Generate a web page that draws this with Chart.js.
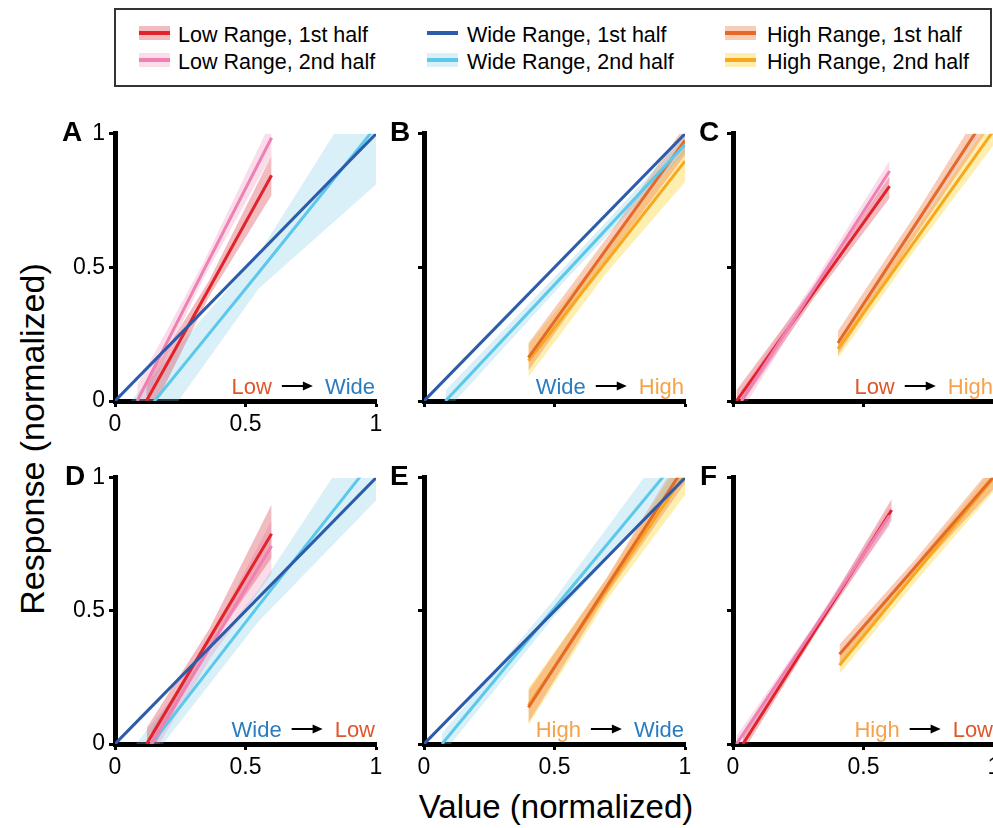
<!DOCTYPE html>
<html>
<head>
<meta charset="utf-8">
<script src="https://cdn.jsdelivr.net/npm/chart.js@4.4.0/dist/chart.umd.min.js"></script>
<style>
html, body { margin: 0; padding: 0; background: #fff; overflow: hidden; width: 993px; height: 828px; }
body { position: relative; font-family: "Liberation Sans", Arial, sans-serif; }
canvas { position: absolute; }
.leyenda { position: absolute; left: 114px; top: 8px; width: 874px; height: 75px; border: 2px solid #333; }
.item { position: absolute; font-size: 21.5px; line-height: 21.5px; color: #000; white-space: nowrap; }
.muestra { position: absolute; width: 31px; height: 14px; }
.muestra span { position: absolute; left: 0; right: 0; top: 5px; height: 4px; }
.titulo { position: absolute; font-size: 33px; line-height: 34px; white-space: nowrap; text-align: center; color: #000; }
</style>
</head>
<body>
<div class="leyenda"></div>
<div class="titulo" style="left:356px; top:790px; width:400px;">Value (normalized)</div>
<div class="titulo" style="left:-178px; top:422px; width:420px; font-size:34px; transform: rotate(-90deg);">Response (normalized)</div>

<script>
// marcas de los ejes
const ticksEje = [0, 0.5, 1];

// series: [x, y, banda inferior, banda superior]
const A_wide1 = [[0, 0], [1, 1]];
const A_wide2 = [[0.06, -0.11, -0.25, 0.0], [0.55, 0.48, 0.42, 0.55], [1, 1.027, 0.81, 1.25]];
const A_low1 = [[0.12, 0, -0.08, 0.07], [0.36, 0.42, 0.39, 0.45], [0.6, 0.845, 0.77, 0.92]];
const A_low2 = [[0.085, 0, -0.06, 0.06], [0.34, 0.49, 0.46, 0.52], [0.6, 0.985, 0.92, 1.05]];

const B_wide1 = [[0, 0], [1, 1]];
const B_wide2 = [[0.082, 0, -0.04, 0.04], [0.55, 0.487, 0.46, 0.515], [1, 0.96, 0.93, 0.99]];
const B_high1 = [[0.4, 0.162, 0.113, 0.217], [0.7, 0.57, 0.53, 0.61], [1, 0.975, 0.92, 1.03]];
const B_high2 = [[0.4, 0.15, 0.09, 0.21], [0.7, 0.524, 0.48, 0.57], [1, 0.898, 0.82, 0.95]];

const C_low1 = [[0.013, 0, -0.04, 0.04], [0.31, 0.407, 0.385, 0.43], [0.6, 0.804, 0.76, 0.84]];
const C_low2 = [[0.032, 0, -0.04, 0.04], [0.31, 0.421, 0.4, 0.445], [0.6, 0.861, 0.82, 0.9]];
const C_high1 = [[0.402, 0.217, 0.172, 0.262], [0.7, 0.662, 0.62, 0.70], [1, 1.11, 1.05, 1.17]];
const C_high2 = [[0.402, 0.195, 0.16, 0.23], [0.7, 0.603, 0.57, 0.64], [1, 1.014, 0.96, 1.07]];

const D_wide1 = [[0, 0], [1, 1]];
const D_wide2 = [[0.08, -0.075, -0.13, 0.0], [0.55, 0.52, 0.46, 0.58], [1, 1.08, 0.915, 1.25]];
const D_low1 = [[0.121, 0, -0.06, 0.06], [0.36, 0.394, 0.36, 0.43], [0.6, 0.79, 0.70, 0.90]];
const D_low2 = [[0.139, 0, -0.05, 0.05], [0.37, 0.373, 0.33, 0.41], [0.6, 0.744, 0.64, 0.84]];

const E_wide1 = [[0, 0], [1, 1]];
const E_wide2 = [[0.069, 0, -0.04, 0.04], [0.5, 0.511, 0.48, 0.545], [1, 1.103, 1.01, 1.21]];
const E_high1 = [[0.4, 0.137, 0.08, 0.2], [0.7, 0.591, 0.56, 0.625], [1, 1.044, 0.98, 1.11]];
const E_high2 = [[0.4, 0.145, 0.07, 0.21], [0.7, 0.58, 0.54, 0.62], [1, 1.015, 0.935, 1.09]];

const F_low1 = [[0.038, 0, -0.03, 0.03], [0.32, 0.435, 0.42, 0.45], [0.608, 0.879, 0.84, 0.92]];
const F_low2 = [[0.013, 0, -0.03, 0.03], [0.31, 0.434, 0.42, 0.447], [0.6, 0.858, 0.82, 0.89]];
const F_high1 = [[0.408, 0.337, 0.30, 0.374], [0.7, 0.667, 0.64, 0.695], [1, 1.006, 0.96, 1.05]];
const F_high2 = [[0.408, 0.296, 0.263, 0.343], [0.7, 0.644, 0.61, 0.675], [1, 1.002, 0.95, 1.04]];

const nombres = ['Low Range, 1st half', 'Low Range, 2nd half', 'Wide Range, 1st half', 'Wide Range, 2nd half', 'High Range, 1st half', 'High Range, 2nd half'];
const claves = ['low1', 'low2', 'wide1', 'wide2', 'high1', 'high2'];

const estilos = {
    low1: { linea: '#e3232c', banda: 'rgba(215,60,75,0.35)' },
    low2: { linea: '#ef80b3', banda: 'rgba(240,120,170,0.25)' },
    wide1: { linea: '#2c5caa', banda: null },
    wide2: { linea: '#5cc8ea', banda: 'rgba(120,200,235,0.28)' },
    high1: { linea: '#e4692b', banda: 'rgba(235,110,50,0.35)' },
    high2: { linea: '#f8a81e', banda: 'rgba(252,215,60,0.4)' }
};
const colorTexto = { Low: '#e0562b', Wide: '#2a7cc0', High: '#f7a24a' };

const paneles = [
    { letra: 'A', dx: -53, L: 115, T: 130, H: 271, xEtiq: true, yEtiq: true, desde: 'Low', hasta: 'Wide',
      series: [['wide2', A_wide2], ['low1', A_low1], ['low2', A_low2], ['wide1', A_wide1]] },
    { letra: 'B', dx: -34, L: 424, T: 130, H: 271, xEtiq: false, yEtiq: false, desde: 'Wide', hasta: 'High',
      series: [['high2', B_high2], ['high1', B_high1], ['wide2', B_wide2], ['wide1', B_wide1]] },
    { letra: 'C', dx: -34, L: 733, T: 130, H: 271, xEtiq: false, yEtiq: false, desde: 'Low', hasta: 'High',
      series: [['high2', C_high2], ['high1', C_high1], ['low1', C_low1], ['low2', C_low2]] },
    { letra: 'D', dx: -50, L: 115, T: 474, H: 270, xEtiq: true, yEtiq: true, desde: 'Wide', hasta: 'Low',
      series: [['wide2', D_wide2], ['low2', D_low2], ['low1', D_low1], ['wide1', D_wide1]] },
    { letra: 'E', dx: -34, L: 424, T: 474, H: 270, xEtiq: true, yEtiq: false, desde: 'High', hasta: 'Wide',
      series: [['high2', E_high2], ['high1', E_high1], ['wide2', E_wide2], ['wide1', E_wide1]] },
    { letra: 'F', dx: -33, L: 733, T: 474, H: 270, xEtiq: true, yEtiq: false, desde: 'High', hasta: 'Low',
      series: [['high2', F_high2], ['high1', F_high1], ['low1', F_low1], ['low2', F_low2]] }
];

Chart.defaults.font.family = '"Liberation Sans", Arial, sans-serif';

// leyenda
const colX = [139, 427, 725];
const textoX = [178, 467, 767];
const filaY = [26, 53];
for (let i = 0; i < claves.length; i++) {
    const col = Math.floor(i / 2), fila = i % 2;
    const est = estilos[claves[i]];
    const m = document.createElement('div');
    m.className = 'muestra';
    m.style.left = colX[col] + 'px';
    m.style.top = filaY[fila] + 'px';
    if (est.banda) m.style.background = est.banda;
    const l = document.createElement('span');
    l.style.background = est.linea;
    m.appendChild(l);
    document.body.appendChild(m);
    const t = document.createElement('div');
    t.className = 'item';
    t.textContent = nombres[i];
    t.style.left = textoX[col] + 'px';
    t.style.top = (filaY[fila] - 1) + 'px';
    document.body.appendChild(t);
}

// letra del panel y nota "Low -> Wide"
const notas = {
    id: 'notas',
    afterDraw(chart, args, o) {
        const ctx = chart.ctx, a = chart.chartArea;
        ctx.save();
        ctx.fillStyle = '#000';
        ctx.textBaseline = 'alphabetic';
        ctx.textAlign = 'left';
        ctx.font = 'bold 28px "Liberation Sans", Arial, sans-serif';
        ctx.fillText(o.letra, a.left + o.dx, a.top + 7);

        ctx.font = '22px "Liberation Sans", Arial, sans-serif';
        const y = a.bottom - 7;
        let x = a.right - 1;
        ctx.textAlign = 'right';
        ctx.fillStyle = colorTexto[o.hasta];
        ctx.fillText(o.hasta, x, y);
        x -= ctx.measureText(o.hasta).width + 12;
        const ay = y - 8;
        ctx.strokeStyle = '#000';
        ctx.fillStyle = '#000';
        ctx.lineWidth = 2;
        ctx.beginPath();
        ctx.moveTo(x - 31, ay);
        ctx.lineTo(x - 8, ay);
        ctx.stroke();
        ctx.beginPath();
        ctx.moveTo(x, ay);
        ctx.lineTo(x - 10, ay - 4.5);
        ctx.lineTo(x - 10, ay + 4.5);
        ctx.closePath();
        ctx.fill();
        x -= 31 + 10;
        ctx.fillStyle = colorTexto[o.desde];
        ctx.fillText(o.desde, x, y);
        ctx.restore();
    }
};

function eje(etiquetas, fijar) {
    return {
        type: 'linear', min: 0, max: 1, z: 1,
        afterBuildTicks: s => { s.ticks = ticksEje.map(v => ({ value: v })); },
        ticks: {
            color: '#000', font: { size: 23 }, padding: 4, maxRotation: 0, autoSkip: false,
            callback: v => etiquetas ? String(v) : ''
        },
        grid: { drawOnChartArea: false, drawTicks: true, tickLength: 6, tickWidth: 3, tickColor: '#000', color: '#000' },
        border: { display: true, color: '#000', width: 5 },
        afterFit: fijar
    };
}

const izq = 55, arriba = 14, derecha = 22, abajo = 42, ancho = 261;

paneles.forEach(p => {
    const cv = document.createElement('canvas');
    cv.width = izq + ancho + derecha;
    cv.height = arriba + p.H + abajo;
    cv.style.left = (p.L - izq) + 'px';
    cv.style.top = (p.T - arriba) + 'px';
    cv.style.width = cv.width + 'px';
    cv.style.height = cv.height + 'px';
    document.body.appendChild(cv);

    const bandas = [];
    const lineas = [];
    p.series.forEach((s, i) => {
        const est = estilos[s[0]];
        const datos = s[1];
        if (est.banda) {
            bandas.push({
                data: datos.map(r => ({ x: r[0], y: r[3] })),
                borderWidth: 0, pointRadius: 0, fill: '+1', backgroundColor: est.banda,
                order: 100 - i, clip: 0
            });
            bandas.push({
                data: datos.map(r => ({ x: r[0], y: r[2] })),
                borderWidth: 0, pointRadius: 0, fill: false, order: 100 - i, clip: 0
            });
        }
        lineas.push({
            data: datos.map(r => ({ x: r[0], y: r[1] })),
            borderColor: est.linea, borderWidth: 3, pointRadius: 0, fill: false,
            order: 50 - i, clip: 0
        });
    });

    new Chart(cv, {
        type: 'line',
        data: { datasets: bandas.concat(lineas) },
        options: {
            responsive: false,
            animation: false,
            devicePixelRatio: 1,
            layout: { padding: { left: 0, top: arriba, right: derecha, bottom: 0 } },
            elements: { line: { tension: 0 } },
            plugins: {
                legend: { display: false },
                tooltip: { enabled: false },
                notas: { letra: p.letra, dx: p.dx, desde: p.desde, hasta: p.hasta }
            },
            scales: {
                x: eje(p.xEtiq, s => { s.height = abajo; }),
                y: eje(p.yEtiq, s => { s.width = izq; })
            }
        },
        plugins: [notas]
    });
});
</script>
</body>
</html>
